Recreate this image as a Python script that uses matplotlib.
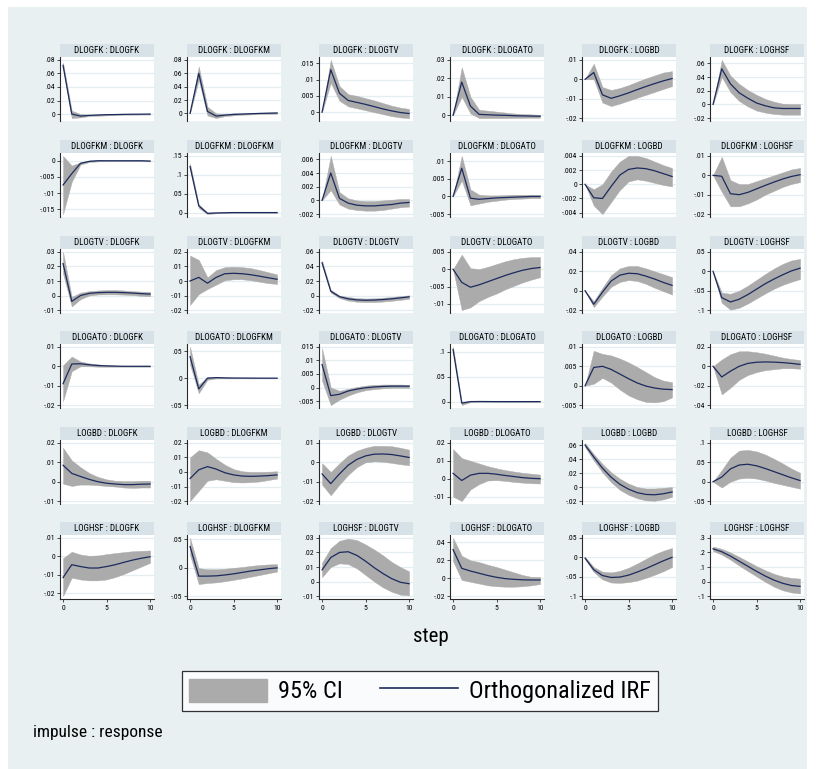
import matplotlib
matplotlib.use("Agg")
import matplotlib.pyplot as plt
from matplotlib import font_manager
from matplotlib.patches import Patch, Rectangle
from matplotlib.lines import Line2D

# Stata draws condensed Arial; use a narrow family if one is installed
installed = {f.name for f in font_manager.fontManager.ttflist}
narrow = None
for cand in ['Liberation Sans Narrow', 'Arial Narrow', 'DejaVu Sans Condensed', 'Roboto Condensed']:
    if cand in installed:
        narrow = cand
        break
if narrow:
    plt.rcParams['font.family'] = [narrow, 'Liberation Sans', 'DejaVu Sans']
    strip_fs, tick_fs, leg_fs, note_fs = 6.5, 5.6, 17.5, 12.5
else:
    plt.rcParams['font.family'] = ['Liberation Sans', 'DejaVu Sans']
    strip_fs, tick_fs, leg_fs, note_fs = 5.6, 5.0, 15, 10.5

# variables (impulse = row, response = column)
names = ['DLOGFK', 'DLOGFKM', 'DLOGTV', 'DLOGATO', 'LOGBD', 'LOGHSF']
steps = [0, 1, 2, 3, 4, 5, 6, 7, 8, 9, 10]
xticks = [0, 5, 10]

# impulse DLOGFK
irf_dlogfk = [
    [0.072, 0.000, -0.003, -0.002, -0.0015, -0.001, -0.0008, -0.0005, -0.0003, -0.0002, -0.0001],
    [0, 0.060, 0.003, -0.004, -0.0025, -0.0015, -0.001, -0.0005, 0, 0.0003, 0.0006],
    [0, 0.013, 0.0058, 0.0036, 0.003, 0.0024, 0.0017, 0.001, 0.0004, -0.0001, -0.0004],
    [0, 0.018, 0.005, 0.0005, 0.0003, 0.0001, 0, -0.0002, -0.0003, -0.0004, -0.0005],
    [0, 0.0035, -0.008, -0.0098, -0.0085, -0.007, -0.0053, -0.0037, -0.0022, -0.0008, 0.0004],
    [0, 0.052, 0.030, 0.017, 0.009, 0.002, -0.002, -0.005, -0.006, -0.006, -0.006],
]
lo_dlogfk = [
    [0.068, -0.006, -0.005, -0.003, -0.0025, -0.002, -0.0015, -0.001, -0.001, -0.0008, -0.0008],
    [0, 0.050, -0.003, -0.007, -0.004, -0.003, -0.002, -0.0015, -0.001, -0.0008, -0.0005],
    [0, 0.009, 0.0035, 0.0018, 0.0012, 0.0006, 0, -0.0006, -0.0012, -0.0016, -0.0018],
    [0, 0.010, 0.001, -0.0015, -0.0015, -0.0015, -0.0015, -0.0014, -0.0014, -0.0013, -0.0013],
    [0, 0.0, -0.012, -0.0138, -0.0125, -0.011, -0.0095, -0.008, -0.0065, -0.005, -0.0035],
    [0, 0.040, 0.018, 0.005, -0.003, -0.009, -0.012, -0.014, -0.015, -0.015, -0.015],
]
hi_dlogfk = [
    [0.076, 0.005, 0.0, -0.001, -0.0005, 0, 0, 0.0002, 0.0004, 0.0005, 0.0006],
    [0, 0.070, 0.010, 0.0, -0.001, 0, 0, 0.0005, 0.001, 0.0014, 0.0017],
    [0, 0.016, 0.008, 0.0055, 0.005, 0.0043, 0.0036, 0.0028, 0.002, 0.0014, 0.001],
    [0, 0.026, 0.010, 0.003, 0.0025, 0.002, 0.0015, 0.001, 0.0007, 0.0005, 0.0003],
    [0, 0.008, -0.004, -0.0055, -0.0045, -0.003, -0.0012, 0.0005, 0.002, 0.0035, 0.0042],
    [0, 0.065, 0.042, 0.030, 0.021, 0.014, 0.008, 0.004, 0.001, 0.0005, 0.0005],
]
ticks_dlogfk = [[0, .02, .04, .06, .08], [0, .02, .04, .06, .08], [0, .005, .01, .015],
                [0, .01, .02, .03], [-.02, -.01, 0, .01], [-.02, 0, .02, .04, .06]]

# impulse DLOGFKM
irf_dlogfkm = [
    [-0.0075, -0.004, -0.0008, -0.0002, 0, 0, 0, 0, 0, 0, -0.0001],
    [0.122, 0.018, -0.002, -0.001, -0.0005, 0, 0, 0, 0, 0, 0],
    [0, 0.004, 0.0003, -0.0004, -0.0007, -0.0008, -0.0008, -0.0007, -0.0006, -0.0004, -0.0003],
    [0, 0.008, -0.0005, -0.0008, -0.0006, -0.0004, -0.0003, -0.0002, -0.0001, 0, 0],
    [0, -0.0019, -0.002, -0.0003, 0.0013, 0.0021, 0.0023, 0.0022, 0.0019, 0.0015, 0.0011],
    [0, -0.0005, -0.0095, -0.010, -0.0088, -0.007, -0.0052, -0.0035, -0.0019, -0.0006, 0.0003],
]
lo_dlogfkm = [
    [-0.0165, -0.0065, -0.0012, -0.0004, -0.0002, -0.0001, -0.0001, -0.0001, -0.0001, -0.0001, -0.0002],
    [0.115, 0.012, -0.004, -0.002, -0.001, -0.0005, -0.0005, -0.0005, -0.0005, -0.0005, -0.0005],
    [0, 0.0015, -0.0006, -0.0012, -0.0014, -0.0015, -0.0015, -0.0014, -0.0012, -0.001, -0.0009],
    [0, 0.0045, -0.0025, -0.002, -0.0015, -0.0012, -0.0009, -0.0007, -0.0006, -0.0005, -0.0005],
    [0, -0.003, -0.0042, -0.0025, -0.0008, 0.0004, 0.0007, 0.0005, 0.0002, -0.0001, -0.0003],
    [0, -0.0085, -0.016, -0.016, -0.0145, -0.0125, -0.010, -0.008, -0.006, -0.0045, -0.0035],
]
hi_dlogfkm = [
    [0.0015, -0.0015, -0.0005, 0.0001, 0.0002, 0.0001, 0.0001, 0.0001, 0.0001, 0.0001, 0.0001],
    [0.130, 0.022, 0.0, 0.0005, 0.0005, 0.0005, 0.0005, 0.0005, 0.0005, 0.0005, 0.0005],
    [0, 0.0065, 0.0012, 0.0003, 0, -0.0001, -0.0001, 0, 0.0001, 0.0002, 0.0002],
    [0, 0.0115, 0.002, 0.0005, 0.0003, 0.0003, 0.0004, 0.0005, 0.0005, 0.0005, 0.0005],
    [0, -0.0007, 0, 0.0018, 0.0032, 0.004, 0.004, 0.0037, 0.0032, 0.0027, 0.0023],
    [0, 0.0095, -0.0025, -0.0045, -0.0045, -0.003, -0.0015, 0, 0.0015, 0.003, 0.0038],
]
ticks_dlogfkm = [[-.015, -.01, -.005, 0], [0, .05, .1, .15], [-.002, 0, .002, .004, .006],
                 [-.005, 0, .005, .01], [-.004, -.002, 0, .002, .004], [-.02, -.01, 0, .01]]

# impulse DLOGTV
irf_dlogtv = [
    [0.022, -0.004, 0.0, 0.0015, 0.002, 0.0022, 0.0022, 0.002, 0.0017, 0.0013, 0.001],
    [0, 0.0025, -0.0015, 0.0025, 0.005, 0.0053, 0.005, 0.0043, 0.0033, 0.0022, 0.0012],
    [0.045, 0.006, -0.0015, -0.0045, -0.006, -0.0065, -0.0062, -0.0055, -0.0045, -0.0032, -0.0018],
    [0, -0.0038, -0.0052, -0.0045, -0.0036, -0.0027, -0.0018, -0.001, -0.0003, 0.0002, 0.0005],
    [0, -0.014, -0.0015, 0.010, 0.016, 0.018, 0.0175, 0.015, 0.012, 0.0085, 0.0055],
    [0, -0.068, -0.079, -0.072, -0.060, -0.046, -0.032, -0.020, -0.009, 0.001, 0.008],
]
lo_dlogtv = [
    [0.015, -0.0075, -0.0025, 0, 0.0007, 0.0008, 0.0008, 0.0006, 0.0003, -0.0002, -0.0005],
    [-0.0165, -0.009, -0.0055, -0.0025, 0.0005, 0.0012, 0.0012, 0.0005, -0.0005, -0.0015, -0.002],
    [0.042, 0.004, -0.0035, -0.007, -0.0085, -0.009, -0.009, -0.0083, -0.0072, -0.006, -0.0045],
    [0, -0.0118, -0.011, -0.0092, -0.008, -0.007, -0.0058, -0.0048, -0.0038, -0.003, -0.0023],
    [0, -0.017, -0.006, 0.004, 0.009, 0.011, 0.010, 0.007, 0.003, -0.0005, -0.004],
    [0, -0.081, -0.099, -0.094, -0.083, -0.070, -0.057, -0.045, -0.035, -0.027, -0.020],
]
hi_dlogtv = [
    [0.030, -0.001, 0.002, 0.003, 0.0035, 0.0038, 0.0038, 0.0035, 0.003, 0.0027, 0.0025],
    [0.0175, 0.0145, 0.0025, 0.0075, 0.0095, 0.0098, 0.0095, 0.0088, 0.0075, 0.006, 0.0045],
    [0.048, 0.008, 0.0, -0.002, -0.0035, -0.004, -0.0038, -0.003, -0.002, -0.0008, 0.0003],
    [0, 0.0042, 0.0003, 0.0, 0.0007, 0.0015, 0.0023, 0.0029, 0.0033, 0.0035, 0.0035],
    [0, -0.011, 0.003, 0.016, 0.023, 0.0255, 0.0255, 0.023, 0.020, 0.017, 0.014],
    [0, -0.055, -0.058, -0.050, -0.037, -0.022, -0.007, 0.007, 0.019, 0.028, 0.032],
]
ticks_dlogtv = [[-.01, 0, .01, .02, .03], [-.02, -.01, 0, .01, .02], [-.02, 0, .02, .04, .06],
                [-.01, -.005, 0, .005], [-.02, 0, .02, .04], [-.1, -.05, 0, .05]]

# impulse DLOGATO
irf_dlogato = [
    [-0.009, 0.0012, 0.0013, 0.0008, 0.0004, 0.0002, 0.0001, 0, 0, 0, 0],
    [0.040, -0.020, 0.0, 0.001, 0.0005, 0.0003, 0.0002, 0.0001, 0, 0, 0],
    [0.0085, -0.003, -0.0025, -0.0013, -0.0006, -0.0001, 0.0002, 0.0004, 0.0005, 0.0005, 0.0005],
    [0.105, -0.003, 0.0, 0.0002, 0.0001, 0, 0, 0, 0, 0, 0],
    [0, 0.0047, 0.005, 0.0042, 0.003, 0.0018, 0.0007, -0.0001, -0.0006, -0.0009, -0.001],
    [0, -0.011, -0.005, 0.0, 0.003, 0.0042, 0.0045, 0.0043, 0.0038, 0.003, 0.002],
]
lo_dlogato = [
    [-0.018, -0.0025, 0.0, 0.0, -0.0002, -0.0002, -0.0002, -0.0002, -0.0002, -0.0002, -0.0002],
    [0.025, -0.028, -0.003, -0.0005, -0.0005, -0.0005, -0.0005, -0.0005, -0.0005, -0.0005, -0.0005],
    [0.0025, -0.0065, -0.0045, -0.003, -0.0018, -0.001, -0.0006, -0.0003, -0.0001, -0.0001, -0.0001],
    [0.100, -0.007, -0.001, -0.0005, -0.0003, -0.0002, -0.0002, -0.0002, -0.0002, -0.0002, -0.0002],
    [0, 0.0005, 0.002, 0.0008, -0.001, -0.0025, -0.0035, -0.0042, -0.0043, -0.004, -0.003],
    [0, -0.029, -0.022, -0.014, -0.009, -0.006, -0.004, -0.003, -0.002, -0.002, -0.0025],
]
hi_dlogato = [
    [0.0005, 0.005, 0.0025, 0.0015, 0.001, 0.0006, 0.0004, 0.0002, 0.0001, 0.0001, 0.0001],
    [0.058, -0.012, 0.002, 0.002, 0.0012, 0.0008, 0.0006, 0.0004, 0.0003, 0.0003, 0.0003],
    [0.0145, 0.0, -0.0012, -0.0005, 0.0002, 0.0007, 0.001, 0.0011, 0.0011, 0.0011, 0.001],
    [0.110, 0.0, 0.001, 0.0008, 0.0005, 0.0003, 0.0002, 0.0002, 0.0002, 0.0002, 0.0002],
    [0, 0.009, 0.0082, 0.0078, 0.007, 0.006, 0.0048, 0.0035, 0.0022, 0.0013, 0.0009],
    [0, 0.007, 0.0125, 0.0155, 0.0155, 0.0145, 0.013, 0.011, 0.009, 0.0075, 0.0065],
]
ticks_dlogato = [[-.02, -.01, 0, .01], [-.05, 0, .05], [-.005, 0, .005, .01, .015],
                 [0, .05, .1], [-.005, 0, .005, .01], [-.04, -.02, 0, .02]]

# impulse LOGBD
irf_logbd = [
    [0.0085, 0.0043, 0.0027, 0.0012, 0.0, -0.0008, -0.0012, -0.0015, -0.0015, -0.0013, -0.0012],
    [-0.0045, 0.0015, 0.0037, 0.002, -0.0005, -0.002, -0.0028, -0.003, -0.0028, -0.0025, -0.002],
    [-0.006, -0.011, -0.006, -0.0015, 0.0015, 0.0033, 0.0042, 0.0043, 0.004, 0.0033, 0.0025],
    [0.003, -0.001, 0.002, 0.003, 0.003, 0.0025, 0.0018, 0.0012, 0.0006, 0.0002, 0.0],
    [0.060, 0.043, 0.027, 0.014, 0.004, -0.003, -0.008, -0.0105, -0.011, -0.0095, -0.007],
    [0, 0.012, 0.033, 0.043, 0.045, 0.041, 0.034, 0.026, 0.018, 0.010, 0.003],
]
lo_logbd = [
    [-0.001, -0.0022, -0.0015, -0.0015, -0.0018, -0.0022, -0.0025, -0.003, -0.0032, -0.003, -0.003],
    [-0.020, -0.013, -0.006, -0.005, -0.006, -0.007, -0.0072, -0.007, -0.0065, -0.0055, -0.0045],
    [-0.0115, -0.017, -0.0115, -0.0065, -0.0025, 0, 0.0005, 0.0003, -0.0003, -0.001, -0.0015],
    [-0.010, -0.0125, -0.006, -0.003, -0.001, -0.0008, -0.0012, -0.0018, -0.0022, -0.0025, -0.0027],
    [0.057, 0.038, 0.021, 0.007, -0.004, -0.011, -0.016, -0.019, -0.0195, -0.0175, -0.014],
    [0, -0.015, 0.0, 0.008, 0.010, 0.008, 0.003, -0.003, -0.008, -0.013, -0.018],
]
hi_logbd = [
    [0.0175, 0.011, 0.0075, 0.0045, 0.0025, 0.0012, 0.0005, 0.0003, 0.0003, 0.0005, 0.0005],
    [0.010, 0.015, 0.0135, 0.009, 0.005, 0.002, 0.0005, 0.0, 0.0, 0.0002, 0.0005],
    [-0.0005, -0.005, -0.0005, 0.0035, 0.006, 0.0075, 0.0085, 0.0085, 0.0083, 0.0075, 0.0065],
    [0.0165, 0.0115, 0.010, 0.0085, 0.007, 0.0058, 0.0048, 0.004, 0.0033, 0.0028, 0.0023],
    [0.063, 0.047, 0.033, 0.021, 0.012, 0.005, 0.0, -0.002, -0.002, -0.001, 0.0],
    [0, 0.030, 0.062, 0.080, 0.082, 0.078, 0.070, 0.059, 0.047, 0.034, 0.023],
]
ticks_logbd = [[-.01, 0, .01, .02], [-.02, -.01, 0, .01, .02], [-.02, -.01, 0, .01],
               [-.01, 0, .01, .02], [-.02, 0, .02, .04, .06], [-.05, 0, .05, .1]]

# impulse LOGHSF
irf_loghsf = [
    [-0.0115, -0.0045, -0.0055, -0.0063, -0.0063, -0.0055, -0.0045, -0.0032, -0.002, -0.001, -0.0002],
    [0.037, -0.015, -0.015, -0.0145, -0.013, -0.011, -0.0085, -0.006, -0.004, -0.002, -0.0005],
    [0.008, 0.0165, 0.020, 0.0205, 0.018, 0.014, 0.0095, 0.0055, 0.002, -0.0005, -0.0015],
    [0.032, 0.011, 0.008, 0.0055, 0.003, 0.001, -0.0005, -0.0013, -0.0018, -0.002, -0.002],
    [-0.002, -0.032, -0.047, -0.052, -0.051, -0.046, -0.038, -0.029, -0.019, -0.009, 0.0],
    [0.225, 0.205, 0.175, 0.140, 0.105, 0.070, 0.038, 0.010, -0.012, -0.027, -0.033],
]
lo_loghsf = [
    [-0.0215, -0.0115, -0.0125, -0.013, -0.013, -0.0125, -0.0112, -0.0095, -0.0075, -0.0055, -0.0035],
    [0.022, -0.029, -0.027, -0.026, -0.024, -0.0215, -0.019, -0.016, -0.013, -0.010, -0.007],
    [0.003, 0.010, 0.0125, 0.012, 0.009, 0.0045, 0.0, -0.004, -0.007, -0.009, -0.0095],
    [0.019, -0.002, -0.004, -0.006, -0.008, -0.009, -0.0095, -0.0095, -0.009, -0.008, -0.0065],
    [-0.005, -0.038, -0.057, -0.065, -0.066, -0.064, -0.060, -0.053, -0.045, -0.036, -0.025],
    [0.210, 0.185, 0.150, 0.110, 0.072, 0.035, -0.002, -0.035, -0.060, -0.075, -0.082],
]
hi_loghsf = [
    [-0.001, 0.0025, 0.001, 0.0003, 0.0005, 0.0012, 0.0018, 0.0023, 0.0028, 0.003, 0.0032],
    [0.052, -0.001, -0.003, -0.003, -0.002, -0.0005, 0.001, 0.003, 0.0045, 0.0055, 0.006],
    [0.013, 0.023, 0.028, 0.0295, 0.0285, 0.0255, 0.022, 0.018, 0.0135, 0.010, 0.007],
    [0.045, 0.025, 0.020, 0.018, 0.015, 0.0125, 0.0095, 0.0065, 0.0035, 0.0015, 0.0015],
    [0.001, -0.025, -0.037, -0.039, -0.035, -0.027, -0.016, -0.004, 0.008, 0.017, 0.024],
    [0.240, 0.225, 0.200, 0.170, 0.138, 0.106, 0.078, 0.053, 0.035, 0.025, 0.020],
]
ticks_loghsf = [[-.02, -.01, 0, .01], [-.05, 0, .05], [-.01, 0, .01, .02, .03],
                [-.02, 0, .02, .04], [-.1, -.05, 0, .05], [-.1, 0, .1, .2, .3]]

irf_all = [irf_dlogfk, irf_dlogfkm, irf_dlogtv, irf_dlogato, irf_logbd, irf_loghsf]
lo_all = [lo_dlogfk, lo_dlogfkm, lo_dlogtv, lo_dlogato, lo_logbd, lo_loghsf]
hi_all = [hi_dlogfk, hi_dlogfkm, hi_dlogtv, hi_dlogato, hi_logbd, hi_loghsf]
ticks_all = [ticks_dlogfk, ticks_dlogfkm, ticks_dlogtv, ticks_dlogato, ticks_logbd, ticks_loghsf]

# colours (Stata s2color look)
bg_color = '#e8f0f2'
strip_color = '#d6e2e7'
grid_color = '#e4edf0'
ci_color = '#ababab'
line_color = '#1c2b5e'
axis_color = '#2a2a2a'


def stata_fmt(v):
    s = f"{v:g}"
    if s.startswith('0.'):
        s = s[1:]
    elif s.startswith('-0.'):
        s = '-' + s[2:]
    return s


W, H = 818, 769
fig = plt.figure(figsize=(W / 100, H / 100), dpi=100)
fig.patch.set_facecolor('white')
fig.add_artist(Rectangle((8 / W, 0), (807 - 8) / W, 1 - 7 / H, transform=fig.transFigure,
                         facecolor=bg_color, edgecolor='none', zorder=-10))

# grid layout in pixels
col_left = [60, 187, 319, 450, 582, 710]
panel_w = 94
row_top = [44, 140, 236, 331, 427, 522]
strip_h = 13
plot_h = 64

for i in range(6):
    for j in range(6):
        L = col_left[j]
        top = row_top[i]
        ax = fig.add_axes([L / W, 1 - (top + strip_h + plot_h) / H, panel_w / W, plot_h / H])
        st = fig.add_axes([L / W, 1 - (top + strip_h) / H, panel_w / W, strip_h / H])
        st.set_facecolor(strip_color)
        st.set_xticks([])
        st.set_yticks([])
        for sp in st.spines.values():
            sp.set_visible(False)
        st.text(0.5, 0.48, f"{names[i]} : {names[j]}", ha='center', va='center',
                fontsize=strip_fs, transform=st.transAxes)

        irf = irf_all[i][j]
        lo = lo_all[i][j]
        hi = hi_all[i][j]
        yt = ticks_all[i][j]

        ax.fill_between(steps, lo, hi, color=ci_color, lw=0.3, zorder=2)
        ax.plot(steps, irf, color=line_color, lw=0.9, zorder=3)

        ymin = min(min(lo), yt[0])
        ymax = max(max(hi), yt[-1])
        pad = (ymax - ymin) * 0.05
        ax.set_ylim(ymin - pad, ymax + pad)
        ax.set_xlim(-0.35, 10.45)
        ax.set_yticks(yt)
        ax.set_yticklabels([stata_fmt(v) for v in yt])
        ax.grid(axis='y', color=grid_color, lw=0.9, zorder=0)
        ax.set_axisbelow(True)
        ax.tick_params(axis='y', length=2.5, width=0.6, pad=1, labelsize=tick_fs,
                       color=axis_color)
        for sp in ['top', 'right']:
            ax.spines[sp].set_visible(False)
        ax.spines['left'].set_color(axis_color)
        ax.spines['left'].set_linewidth(0.8)
        if i == 5:
            ax.set_xticks(xticks)
            ax.set_xticklabels([str(v) for v in xticks])
            ax.tick_params(axis='x', length=2.5, width=0.6, pad=2, labelsize=tick_fs,
                           color=axis_color)
            ax.spines['bottom'].set_color(axis_color)
            ax.spines['bottom'].set_linewidth(0.8)
        else:
            ax.set_xticks([])
            ax.spines['bottom'].set_visible(False)

fig.text(431 / W, 1 - 636 / H, 'step', ha='center', va='center', fontsize=15)

handles = [Patch(facecolor=ci_color, edgecolor=ci_color),
           Line2D([], [], color=line_color, lw=1.2)]
leg = fig.legend(handles, ['95% CI', 'Orthogonalized IRF'], loc='center',
                 bbox_to_anchor=(420 / W, 1 - 691 / H), ncol=2, fontsize=leg_fs,
                 frameon=True, fancybox=False, edgecolor='black',
                 handlelength=3.2, handleheight=1.1, handletextpad=0.45,
                 columnspacing=1.55, borderpad=0.3, borderaxespad=0)
leg.get_frame().set_linewidth(0.9)
leg.get_frame().set_facecolor('white')

fig.text(33 / W, 1 - 733 / H, 'impulse : response', ha='left', va='center', fontsize=note_fs)

fig.savefig('out.png', dpi=100, facecolor=fig.get_facecolor())
